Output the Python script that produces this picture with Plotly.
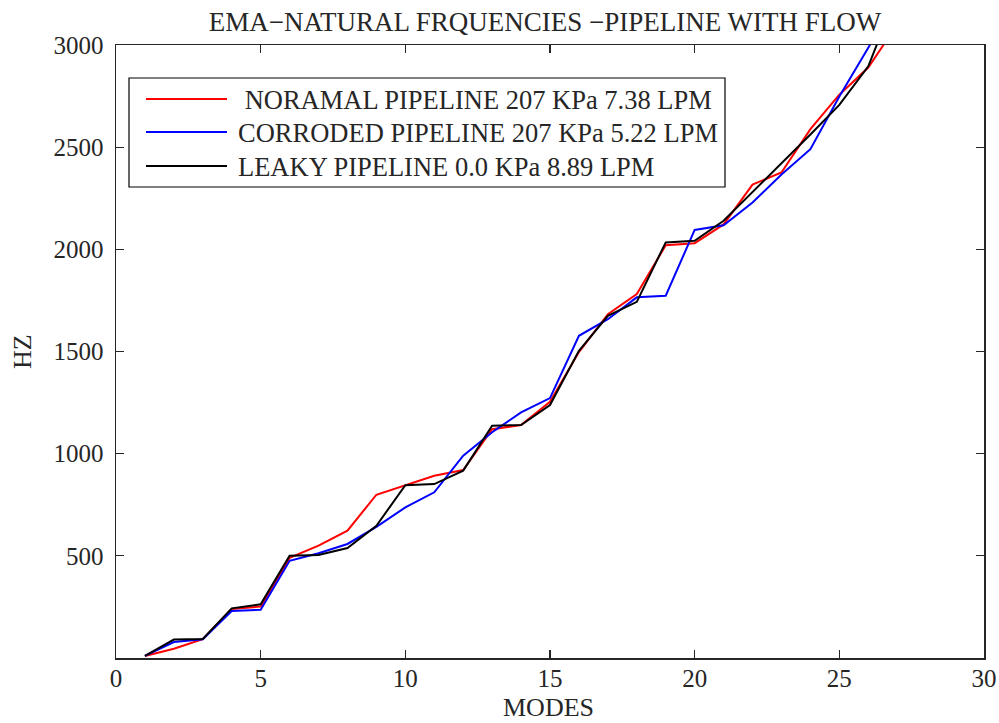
import plotly.graph_objects as go

modes = list(range(1, 28))

normal_hz = [10, 45, 92, 240, 252, 490, 550, 623, 799, 846, 892, 920, 1120, 1140, 1254,
             1497, 1683, 1781, 2020, 2030, 2122, 2317, 2376, 2588, 2757, 2890, 3100]
corroded_hz = [10, 78, 92, 230, 236, 476, 513, 558, 642, 737, 811, 990, 1105, 1202, 1272,
               1577, 1658, 1765, 1773, 2095, 2118, 2229, 2366, 2490, 2748, 2986, 3250]
leaky_hz = [10, 90, 93, 243, 263, 500, 504, 538, 647, 846, 851, 917, 1137, 1140, 1238,
            1503, 1675, 1743, 2034, 2042, 2140, 2280, 2425, 2562, 2707, 2896, 3253]

names = [" NORAMAL PIPELINE 207 KPa 7.38 LPM",
         "CORRODED PIPELINE 207 KPa 5.22 LPM",
         "LEAKY PIPELINE 0.0 KPa 8.89 LPM"]
colors = ["#ff0000", "#0000ff", "#000000"]
series = [normal_hz, corroded_hz, leaky_hz]

x_ticks = [0, 5, 10, 15, 20, 25, 30]
y_ticks = [500, 1000, 1500, 2000, 2500, 3000]

x_title = "MODES"
y_title = "HZ"
chart_title = "EMA−NATURAL FRQUENCIES −PIPELINE WITH FLOW"

FONT = "Liberation Serif"
TXT = "#262626"

# plot-area geometry (pixels) used for the hand-drawn legend box and titles
W, H = 999, 723
ML, MR, MT, MB = 116, 15, 45, 65
PW, PH = W - ML - MR, H - MT - MB


def px(xpix):
    return (xpix - ML) / PW


def py(ypix):
    return (H - MB - ypix) / PH


fig = go.Figure()
for name, col, ys in zip(names, colors, series):
    fig.add_trace(go.Scatter(x=modes, y=ys, mode="lines", name=name.strip(),
                             line=dict(color=col, width=2), showlegend=False))

axis_common = dict(showline=True, linecolor=TXT, linewidth=1.5, mirror="allticks",
                   ticks="inside", ticklen=8, tickwidth=1.2, tickcolor=TXT,
                   showgrid=False, zeroline=False, automargin=False,
                   tickfont=dict(family=FONT, size=25, color=TXT))

shapes = [dict(type="rect", xref="paper", yref="paper",
               x0=px(129), x1=px(725), y0=py(78), y1=py(187),
               line=dict(color="#000000", width=1.2), fillcolor="white", layer="above")]
annotations = []
row_y = [99, 132, 166]
text_x = [236, 236, 236]
for name, col, ry, tx in zip(names, colors, row_y, text_x):
    shapes.append(dict(type="line", xref="paper", yref="paper",
                       x0=px(146), x1=px(227), y0=py(ry), y1=py(ry),
                       line=dict(color=col, width=2), layer="above"))
    annotations.append(dict(text=name.replace(" ", "\u00a0", 1) if name.startswith(" ") else name,
                            xref="paper", yref="paper", x=px(tx), y=py(ry + 1),
                            xanchor="left", yanchor="middle", showarrow=False,
                            font=dict(family=FONT, size=26.5, color=TXT)))

# axis titles
annotations.append(dict(text=x_title, xref="paper", yref="paper", x=px(548), y=py(707),
                        xanchor="center", yanchor="middle", showarrow=False,
                        font=dict(family=FONT, size=26, color=TXT)))
annotations.append(dict(text=y_title, xref="paper", yref="paper", x=px(22), y=py(352),
                        xanchor="center", yanchor="middle", showarrow=False, textangle=-90,
                        font=dict(family=FONT, size=26, color=TXT)))

fig.update_layout(
    width=W, height=H,
    margin=dict(l=ML, r=MR, t=MT, b=MB),
    paper_bgcolor="white", plot_bgcolor="white",
    title=dict(text=chart_title,
               x=0.5455, xref="container", xanchor="center",
               y=1 - 22 / H, yref="container", yanchor="middle",
               font=dict(family=FONT, size=27, color=TXT)),
    xaxis=dict(range=[0, 30], tickvals=x_ticks, ticklabelstandoff=-3, **axis_common),
    yaxis=dict(range=[0, 3000], tickvals=y_ticks, ticklabelstandoff=6, **axis_common),
    shapes=shapes,
    annotations=annotations,
    showlegend=False,
)

fig.write_html("out.html",
               config={"displayModeBar": False, "staticPlot": True},
               post_script="document.body.style.margin='0px';document.body.style.padding='0px';"
                           "document.documentElement.style.overflow='hidden';")
